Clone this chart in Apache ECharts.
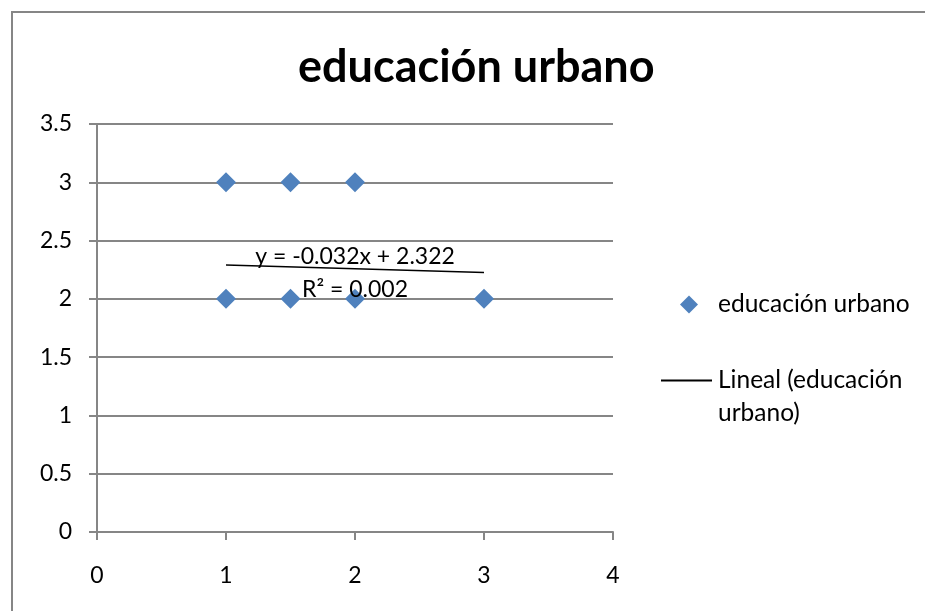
<!DOCTYPE html>
<html><head><meta charset="utf-8">
<script src="https://cdn.jsdelivr.net/npm/echarts@6/dist/echarts.min.js"></script>
<style>html,body{margin:0;padding:0;background:#fff}#c{width:925px;height:611px}</style>
</head><body><div id="c"></div>
<script>
const seriesName = 'educación urbano';
const trendName = 'Lineal (educación\nurbano)';
const xValues = [1, 1.5, 2, 1, 1.5, 2, 3];
const yValues = [3, 3, 3, 2, 2, 2, 2];
const trendSlope = -0.032;
const trendIntercept = 2.322;
const trendRange = [1, 3];
const equationText = 'y = -0.032x + 2.322\nR² = 0.002';
const xTicks = [0, 1, 2, 3, 4];
const yTicks = [0, 0.5, 1, 1.5, 2, 2.5, 3, 3.5];

const FONT = 'Lato';
const points = xValues.map((x, i) => [x, yValues[i]]);
const trend = trendRange.map(x => [x, trendSlope * x + trendIntercept]);

const chart = echarts.init(document.getElementById('c'), null, {renderer: 'canvas'});
chart.setOption({
  backgroundColor: '#fff',
  animation: false,
  textStyle: {fontFamily: FONT},
  title: {
    text: 'educación urbano', left: 293, top: 40,
    textStyle: {fontFamily: FONT, fontWeight: 'bold', fontSize: 45, color: '#000'}
  },
  graphic: [{
    type: 'polyline', silent: true,
    shape: {points: [[12, 640], [12, 12], [940, 12]]},
    style: {stroke: '#868686', lineWidth: 2, fill: null}
  }],
  legend: [{
    data: [{name: seriesName, icon: 'diamond'}],
    left: 675, top: 287, itemWidth: 18, itemHeight: 18, itemGap: 10,
    textStyle: {fontFamily: FONT, fontSize: 24.5, color: '#000', padding: [0, 0, 0, 15]}
  }, {
    data: [{name: trendName, icon: 'rect'}],
    left: 656, top: 326, itemWidth: 51, itemHeight: 2,
    itemStyle: {color: '#000'},
    formatter: name => '\n' + name,
    textStyle: {fontFamily: FONT, fontSize: 24.5, color: '#000', lineHeight: 33, padding: [0, 0, 0, 1]}
  }],
  grid: {left: 97, right: 312, top: 124, bottom: 79, containLabel: false},
  xAxis: {
    type: 'value', min: 0, max: 4, interval: 1,
    axisLine: {lineStyle: {color: '#868686', width: 2}},
    axisTick: {show: true, length: 8, lineStyle: {color: '#868686', width: 2}},
    splitLine: {show: false},
    axisLabel: {color: '#000', fontFamily: FONT, fontSize: 23, margin: 32,
      formatter: v => xTicks.includes(v) ? String(v) : ''}
  },
  yAxis: {
    type: 'value', min: 0, max: 3.5, interval: 0.5,
    axisLine: {show: true, lineStyle: {color: '#868686', width: 2}},
    axisTick: {show: true, length: 8, lineStyle: {color: '#868686', width: 2}},
    splitLine: {show: true, lineStyle: {color: '#868686', width: 2}},
    axisLabel: {color: '#000', fontFamily: FONT, fontSize: 23, margin: 25,
      formatter: v => yTicks.includes(v) ? String(v) : ''}
  },
  series: [{
    name: seriesName, type: 'scatter', symbol: 'diamond', symbolSize: 20,
    itemStyle: {color: '#4F81BD', opacity: 1}, data: points, z: 3
  }, {
    name: trendName, type: 'line', symbol: 'none', data: trend,
    lineStyle: {color: '#000', width: 1.5}, itemStyle: {color: '#000'}, z: 4,
    markPoint: {
      symbol: 'circle', symbolSize: 0,
      data: [{coord: [2, 2.22]}],
      label: {show: true, formatter: equationText, color: '#000', fontFamily: FONT,
        fontSize: 23, lineHeight: 33, align: 'center', verticalAlign: 'middle'}
    }
  }]
});
</script></body></html>
